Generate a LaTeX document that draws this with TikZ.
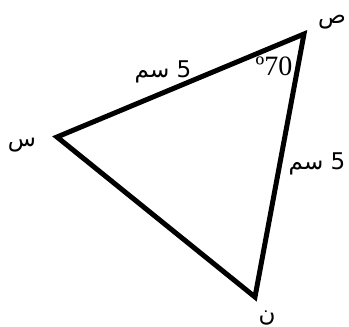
\documentclass[tikz,border=0pt]{standalone}
\usepackage{fontspec}
\setmainfont{Liberation Serif}
\newfontfamily\arabicfont[Script=Arabic]{DejaVu Sans}
\TeXXeTstate=1
\usetikzlibrary{calc}

\begin{document}
\begin{tikzpicture}[x=1pt, y=-1pt,
		side/.style={line width=5pt, line join=miter},
		arlabel/.style={font=\arabicfont\fontsize{23}{26}\selectfont, inner sep=0pt},
		anglabel/.style={font=\fontsize{28}{30}\selectfont, inner sep=0pt}]

		% === bounds ===
		\useasboundingbox (0,0) rectangle (349,327);

		% === vertices ===
		\coordinate (sad) at (304,34);
		\coordinate (sin) at (57,137);
		\coordinate (nun) at (255,297);

		% === triangle ===
		\draw[side] (sad) -- (sin) -- (nun) -- cycle;

		% === vertex labels ===
		\node[arlabel] (lsad) at (332,22)  {\beginR ص\endR};
		\node[arlabel] (lsin) at (22,145)  {\beginR س\endR};
		\node[arlabel] (lnun) at (267,318) {\beginR ن\endR};

		% === side and angle labels ===
		\node[arlabel] (ltop)   at (163,72)  {\beginR 5 سم\endR};
		\node[arlabel] (lright) at (317,164) {\beginR 5 سم\endR};
		\node[anglabel] (lang)  at (274,66)  {º70};
	\end{tikzpicture}
\end{document}
